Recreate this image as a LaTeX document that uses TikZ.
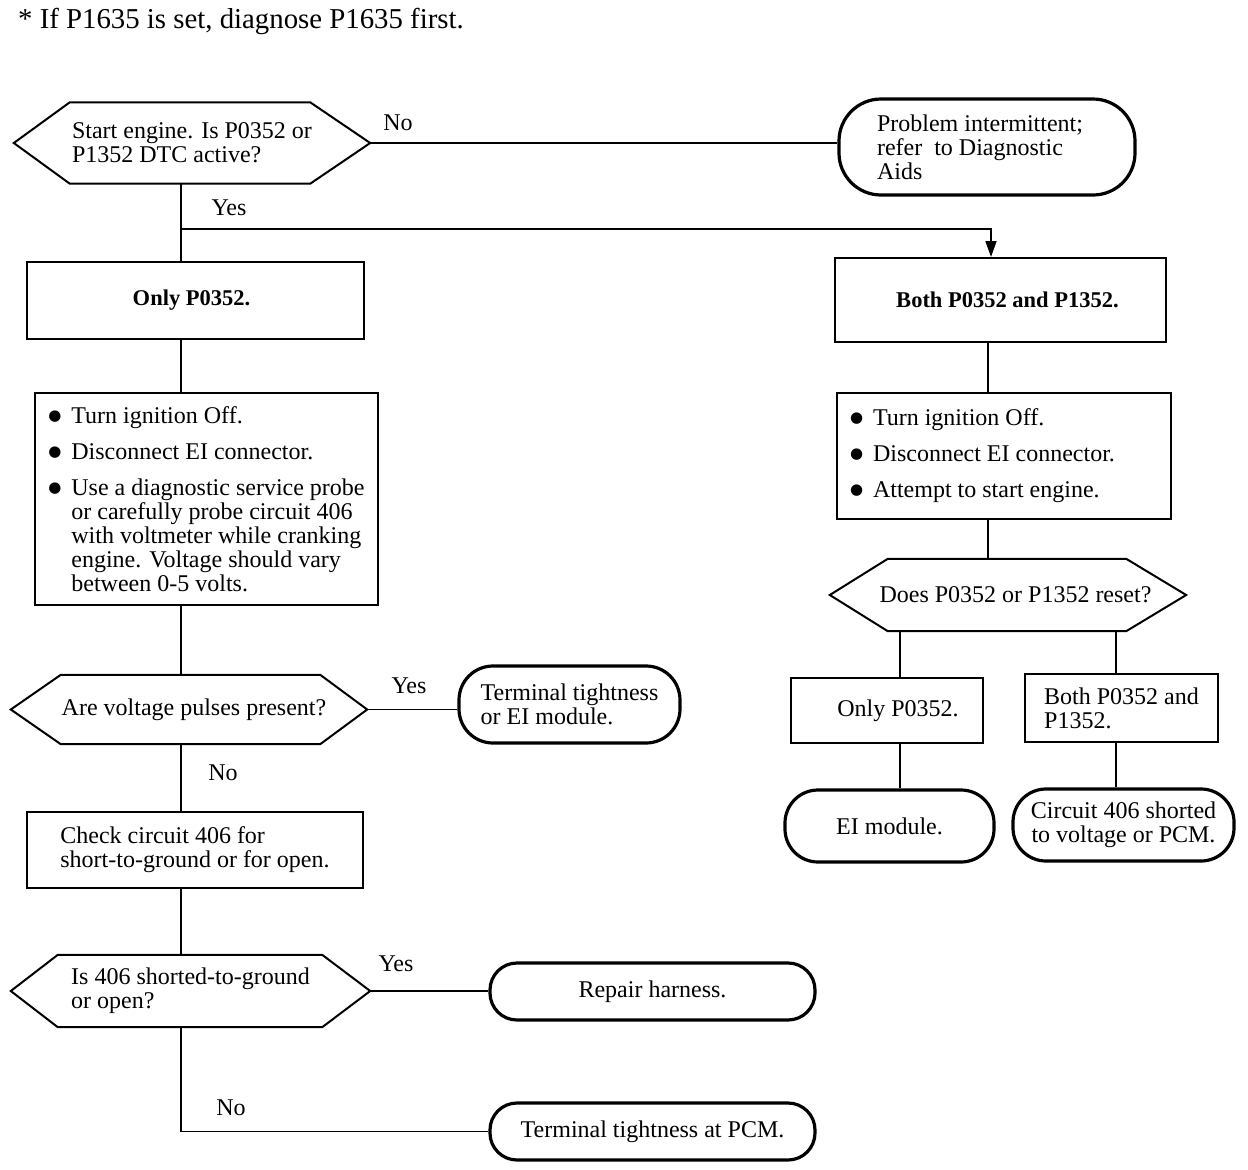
\documentclass[tikz,border=0pt]{standalone}
\usepackage{fontspec}
\setmainfont{Liberation Serif}
\newfontfamily\djv{DejaVu Sans}
\usetikzlibrary{arrows.meta}
\newcommand\bul{\makebox[23pt][l]{\raisebox{3pt}{\djv\fontsize{15}{15}\selectfont ●}}}
\newcommand\ind{\hspace*{23pt}}
\begin{document}
\begin{tikzpicture}[x=1pt,y=-1pt,
  every node/.style={font=\fontsize{24}{24}\selectfont, inner sep=0pt},
  box/.style={draw, line width=2pt, rectangle, align=left},
  boldbox/.style={box, font=\bfseries\fontsize{22.5}{24}\selectfont},
  term/.style={draw, line width=3.2pt, rounded corners=#1, align=left},
  hexnode/.style={rectangle, align=left},
  hexline/.style={line width=2pt, line join=miter},
  conn/.style={line width=1.8pt},
  lbl/.style={}
]
\useasboundingbox (0,0) rectangle (1248,1170);

\node[anchor=base west, font=\fontsize{28.8}{30}\selectfont] (title) at (18,28) {* If P1635 is set, diagnose P1635 first.};

% left column
\node[hexnode, minimum width=356pt, minimum height=81pt] (d1) at (192,143) {Start engine. Is P0352 or\\P1352 DTC active?};
\node[term=42pt, minimum width=296pt, minimum height=96pt] (t1) at (987,147) {Problem intermittent;\hspace*{14pt}\\refer~ to Diagnostic\\Aids};
\node[boldbox, minimum width=337pt, minimum height=77pt] (b1) at (195.5,300.5) {Only P0352.\hspace*{8pt}};
\node[boldbox, minimum width=331pt, minimum height=84pt] (b2) at (1000.5,300) {\hspace*{14pt}Both P0352 and P1352.};
\node[box, minimum width=343pt, minimum height=212pt] (l1) at (206.5,499) {\bul Turn ignition Off.\\[12pt]\bul Disconnect EI connector.\\[12pt]\bul Use a diagnostic service probe\\\ind or carefully probe circuit 406\\\ind with voltmeter while cranking\\\ind engine. Voltage should vary\\\ind between 0-5 volts.};
\node[box, minimum width=334pt, minimum height=126pt, text width=308pt, inner xsep=13pt, align=flush left] (l2) at (1004,456) {\bul Turn ignition Off.\\[12pt]\bul Disconnect EI connector.\\[12pt]\bul Attempt to start engine.};
\node[hexnode, minimum width=356pt, minimum height=69pt] (d2) at (189,709.5) {\hspace*{10pt}Are voltage pulses present?};
\node[term=34pt, minimum width=221pt, minimum height=77pt] (t2) at (569.5,704.5) {Terminal tightness\\or EI module.};
\node[box, minimum width=336pt, minimum height=76pt] (b3) at (195,850) {Check circuit 406 for\\short-to-ground or for open.};
\node[hexnode, minimum width=359pt, minimum height=72pt] (d3) at (190.5,991) {Is 406 shorted-to-ground\\or open?};
\node[term=27pt, minimum width=325pt, minimum height=57pt] (t3) at (652.5,991.5) {Repair harness.};
\node[term=27pt, minimum width=325pt, minimum height=57pt] (t4) at (652.5,1131.5) {Terminal tightness at PCM.};

% right column
\node[hexnode, minimum width=356pt, minimum height=72pt] (d4) at (1008,595) {\hspace*{15pt}Does P0352 or P1352 reset?};
\node[box, minimum width=192pt, minimum height=65pt] (b4) at (887,710.5) {\hspace*{22pt}Only P0352.};
\node[box, minimum width=193pt, minimum height=68pt] (b5) at (1121.5,708) {Both P0352 and\\P1352.};
\node[term=33pt, minimum width=209pt, minimum height=72pt] (t5) at (889.5,826) {EI module.};
\node[term=33pt, minimum width=221pt, minimum height=72pt, align=center] (t6) at (1123.5,825) {Circuit 406 shorted\\to voltage or PCM.};

% hexagon outlines
\draw[hexline] (d1.west) -- ([xshift=56pt]d1.north west) -- ([xshift=-60pt]d1.north east) -- (d1.east) -- ([xshift=-60pt]d1.south east) -- ([xshift=56pt]d1.south west) -- cycle;
\draw[hexline] (d2.west) -- ([xshift=50pt]d2.north west) -- ([xshift=-47pt]d2.north east) -- (d2.east) -- ([xshift=-47pt]d2.south east) -- ([xshift=50pt]d2.south west) -- cycle;
\draw[hexline] (d3.west) -- ([xshift=47pt]d3.north west) -- ([xshift=-48pt]d3.north east) -- (d3.east) -- ([xshift=-48pt]d3.south east) -- ([xshift=47pt]d3.south west) -- cycle;
\draw[hexline] (d4.west) -- ([xshift=58pt]d4.north west) -- ([xshift=-60pt]d4.north east) -- (d4.east) -- ([xshift=-60pt]d4.south east) -- ([xshift=58pt]d4.south west) -- cycle;

% connector helpers
\coordinate (sp) at (181,0);
\coordinate (rc) at (988,0);
\coordinate (ca) at (900,0);
\coordinate (cb) at (1116,0);
\coordinate (yj) at (181,229);

\draw[conn] (d1.east) -- (d1.east -| t1.west);
\draw[conn] (d1.south -| sp) -- (b1.north -| sp);
\draw[conn, -{Triangle[length=16pt,width=11pt]}] (yj) -| ([xshift=-9.5pt]b2.north);
\draw[conn] (b1.south -| sp) -- (l1.north -| sp);
\draw[conn] (l1.south -| sp) -- (d2.north -| sp);
\draw[conn] (d2.east) -- (d2.east -| t2.west);
\draw[conn] (d2.south -| sp) -- (b3.north -| sp);
\draw[conn] (b3.south -| sp) -- (d3.north -| sp);
\draw[conn] (d3.east) -- (d3.east -| t3.west);
\draw[conn] (d3.south -| sp) |- (t4.west);
\draw[conn] (b2.south -| rc) -- (l2.north -| rc);
\draw[conn] (l2.south -| rc) -- (d4.north -| rc);
\draw[conn] (d4.south -| ca) -- (b4.north -| ca);
\draw[conn] (d4.south -| cb) -- (b5.north -| cb);
\draw[conn] (b4.south -| ca) -- (t5.north -| ca);
\draw[conn] (b5.south -| cb) -- (t6.north -| cb);

% labels
\node[lbl] (lno1) at (398,123) {No};
\node[lbl] (lyes1) at (229,208) {Yes};
\node[lbl] (lyes2) at (409,686) {Yes};
\node[lbl] (lno2) at (223,773) {No};
\node[lbl] (lyes3) at (396,964) {Yes};
\node[lbl] (lno3) at (231,1108) {No};
\end{tikzpicture}
\end{document}
